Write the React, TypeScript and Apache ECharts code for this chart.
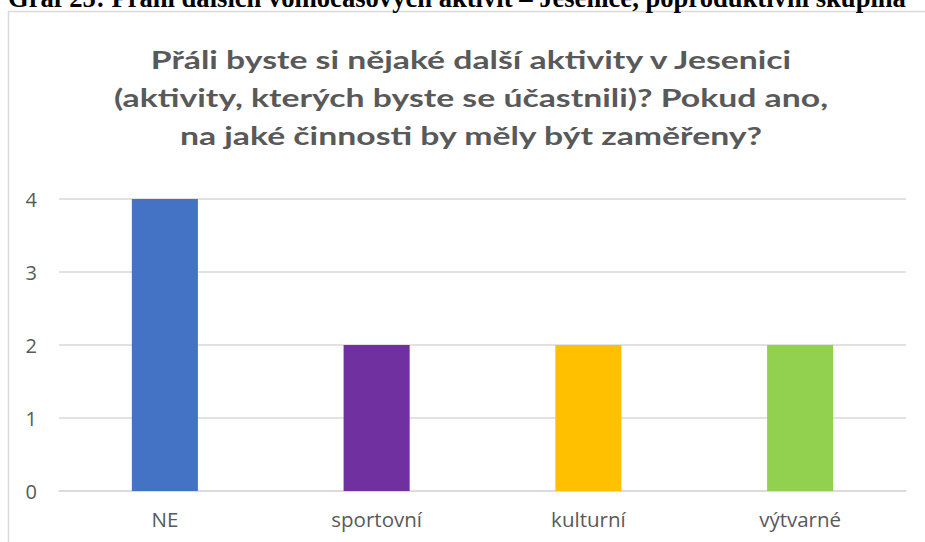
import React, { useEffect, useRef } from "react";
import * as echarts from "echarts";

const categories = ["NE", "sportovní", "kulturní", "výtvarné"];
const values = [4, 2, 2, 2];
const barColors = ["#4472C4", "#7030A0", "#FFC000", "#92D050"];
const titleLines = [
  "Přáli byste si nějaké další aktivity v Jesenici",
  "(aktivity, kterých byste se účastnili)? Pokud ano,",
  "na jaké činnosti by měly být zaměřeny?",
];
const caption = "Graf 25: Přání dalších volnočasových aktivit – Jesenice, poproduktivní skupina";

export default function App() {
  const ref = useRef<HTMLDivElement>(null);
  useEffect(() => {
    document.body.style.margin = "0";
    const chart = echarts.init(ref.current!, null, { renderer: "svg" });
    const titleTexts = titleLines.map((t, i) => ({
      type: "text",
      x: 471,
      y: 59 + i * 38,
      scaleX: 1.35,
      silent: true,
      style: {
        text: t,
        font: "bold 25px Lato",
        fill: "#595959",
        textAlign: "center",
        textVerticalAlign: "middle",
      },
    }));
    chart.setOption({
      animation: false,
      backgroundColor: "#ffffff",
      graphic: [
        {
          type: "rect",
          shape: { x: 8.5, y: 11.5, width: 1000, height: 1000 },
          style: { fill: "none", stroke: "#d9d9d9", lineWidth: 1.5 },
          silent: true,
        },
        {
          type: "text",
          x: 8,
          y: 11,
          silent: true,
          style: {
            text: caption,
            font: "bold 26.6px 'Liberation Serif'",
            fill: "#000000",
            textAlign: "left",
            textVerticalAlign: "bottom",
          },
        },
        ...titleTexts,
      ],
      grid: { left: 59, right: 19, top: 199, bottom: 51 },
      xAxis: {
        type: "category",
        data: categories,
        axisLine: { show: true, lineStyle: { color: "#d9d9d9", width: 1.5 } },
        axisTick: { show: false },
        axisLabel: { fontFamily: "Open Sans", fontSize: 20.5, color: "#595959", margin: 17 },
      },
      yAxis: {
        type: "value",
        min: 0,
        max: 4,
        interval: 1,
        axisLine: { show: false },
        axisTick: { show: false },
        splitLine: { lineStyle: { color: "#d9d9d9", width: 1.5 } },
        axisLabel: { fontFamily: "Open Sans", fontSize: 20, color: "#595959", margin: 22 },
      },
      series: [
        {
          type: "bar",
          data: values.map((v, i) => ({ value: v, itemStyle: { color: barColors[i] } })),
          barWidth: "31.2%",
        },
      ],
    });
    return () => chart.dispose();
  }, []);
  return <div ref={ref} style={{ width: 925, height: 542, position: "absolute", left: 0, top: 0 }} />;
}
